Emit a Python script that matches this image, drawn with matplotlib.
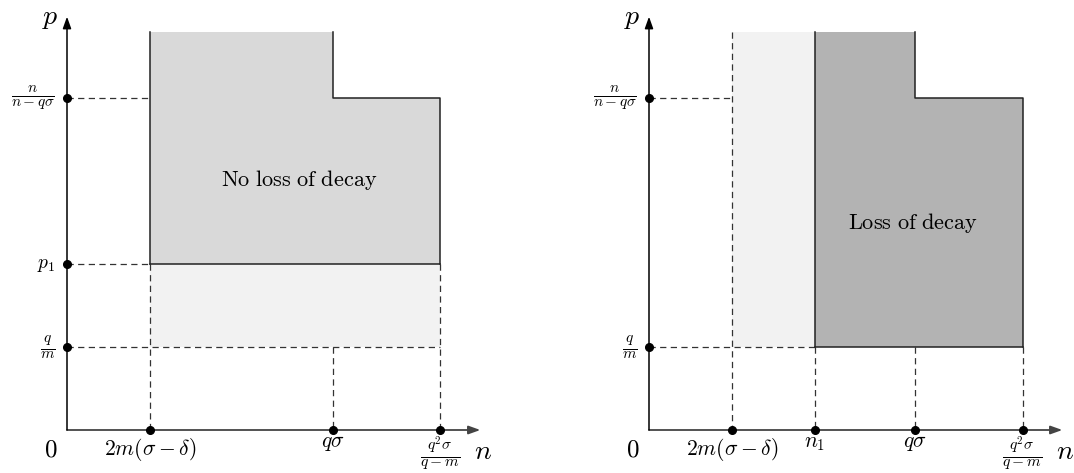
import matplotlib
matplotlib.use("Agg")
import matplotlib.pyplot as plt
from matplotlib.patches import Polygon

plt.rcParams['mathtext.fontset'] = 'cm'

# ---- data (abstract positions) ----
left_xvals = [1.0, 3.2, 4.5]
left_xlabels = [r'$2m(\sigma-\delta)$', r'$q\sigma$', r'$\frac{q^2\sigma}{q-m}$']
left_yvals = [1.0, 2.0, 4.0]
left_ylabels = [r'$\frac{q}{m}$', r'$p_1$', r'$\frac{n}{n-q\sigma}$']

right_xvals = [1.0, 2.0, 3.2, 4.5]
right_xlabels = [r'$2m(\sigma-\delta)$', r'$n_1$', r'$q\sigma$', r'$\frac{q^2\sigma}{q-m}$']
right_yvals = [1.0, 4.0]
right_ylabels = [r'$\frac{q}{m}$', r'$\frac{n}{n-q\sigma}$']

top_val = 4.8
axis_end = 4.98
left_text = r'$\mathrm{No\ loss\ of\ decay}$'
right_text = r'$\mathrm{Loss\ of\ decay}$'

W, H = 1074, 473
U = 83.0  # pixels per unit
fig = plt.figure(figsize=(W/100, H/100), dpi=100)

def make_axes(px0, px1, ox, oy):
    ax = fig.add_axes([px0/W, 0, (px1-px0)/W, 1])
    ax.set_xlim((px0-ox)/U, (px1-ox)/U)
    ax.set_ylim((oy-H)/U, oy/U)
    ax.axis('off')
    return ax

dash = dict(color='#333333', lw=0.9, ls=(0, (5, 3.5)), zorder=2)
solid = dict(color='#222222', lw=1.1, zorder=3)

def axes_arrows(ax):
    ax.annotate('', xy=(axis_end, 0), xytext=(0, 0),
                arrowprops=dict(arrowstyle='-|>,head_length=0.7,head_width=0.25', color='#444444', lw=1.3,
                                shrinkA=0, shrinkB=0), zorder=4)
    ax.annotate('', xy=(0, axis_end), xytext=(0, 0),
                arrowprops=dict(arrowstyle='-|>,head_length=0.7,head_width=0.25', color='black', lw=1.1,
                                shrinkA=0, shrinkB=0), zorder=4)
    ax.text(-0.2, -0.24, r'$0$', fontsize=18, ha='center', va='center')
    ax.text(axis_end + 0.03, -0.25, r'$n$', fontsize=20, ha='center', va='center')
    ax.text(-0.2, 4.97, r'$p$', fontsize=20, ha='center', va='center')

def labels(ax, xvals, xlabels, xoffs, yvals, ylabels):
    ax.plot(xvals, [0]*len(xvals), 'o', color='black', ms=5.5, zorder=5, clip_on=False)
    ax.plot([0]*len(yvals), yvals, 'o', color='black', ms=5.5, zorder=5, clip_on=False)
    for xv, lab, o in zip(xvals, xlabels, xoffs):
        ax.text(xv, o, lab, fontsize=16 if 'frac' in lab else 15.5, ha='center', va='center')
    for yv, lab in zip(yvals, ylabels):
        ax.text(-0.145, yv, lab, fontsize=15.7 if 'frac' in lab else 14, ha='right', va='center')

# ---------------- left panel ----------------
ax = make_axes(0, 537, 67, 430)
x1, x2, x3 = left_xvals
yq, yp1, yn = left_yvals
ax.add_patch(Polygon([(x1, top_val), (x2, top_val), (x2, yn), (x3, yn), (x3, yp1), (x1, yp1)],
                     closed=True, facecolor='#d9d9d9', edgecolor='none', zorder=1))
ax.add_patch(Polygon([(x1, yp1), (x3, yp1), (x3, yq), (x1, yq)],
                     closed=True, facecolor='#f2f2f2', edgecolor='none', zorder=1))
ax.plot([x1, x1], [top_val, yp1], **solid)
ax.plot([x2, x2, x3, x3], [top_val, yn, yn, yp1], **solid)
ax.plot([x1, x3], [yp1, yp1], **solid)
ax.plot([0, x1], [yn, yn], **dash)
ax.plot([0, x1], [yp1, yp1], **dash)
ax.plot([0, x3], [yq, yq], **dash)
ax.plot([x1, x1], [yp1, 0], **dash)
ax.plot([x2, x2], [yq, 0], **dash)
ax.plot([x3, x3], [yp1, 0], **dash)
axes_arrows(ax)
labels(ax, left_xvals, left_xlabels, [-0.24, -0.16, -0.28], left_yvals, left_ylabels)
ax.text(2.795, 3.01, left_text, fontsize=16, ha='center', va='center')

# ---------------- right panel ----------------
ax = make_axes(537, 1074, 649, 430)
r1, r2, r3, r4 = right_xvals
ryq, ryn = right_yvals
ax.add_patch(Polygon([(r1, top_val), (r2, top_val), (r2, ryq), (r1, ryq)],
                     closed=True, facecolor='#f2f2f2', edgecolor='none', zorder=1))
ax.add_patch(Polygon([(r2, top_val), (r3, top_val), (r3, ryn), (r4, ryn), (r4, ryq), (r2, ryq)],
                     closed=True, facecolor='#b3b3b3', edgecolor='none', zorder=1))
ax.plot([r2, r2], [top_val, ryq], **solid)
ax.plot([r3, r3, r4, r4], [top_val, ryn, ryn, ryq], **solid)
ax.plot([r2, r4], [ryq, ryq], **solid)
ax.plot([0, r1], [ryn, ryn], **dash)
ax.plot([0, r2], [ryq, ryq], **dash)
ax.plot([r1, r1], [top_val, 0], **dash)
ax.plot([r2, r2], [ryq, 0], **dash)
ax.plot([r3, r3], [ryq, 0], **dash)
ax.plot([r4, r4], [ryq, 0], **dash)
axes_arrows(ax)
labels(ax, right_xvals, right_xlabels, [-0.24, -0.16, -0.16, -0.28], right_yvals, right_ylabels)
ax.text(3.18, 2.5, right_text, fontsize=16, ha='center', va='center')

fig.savefig('out.png', dpi=100, facecolor='white')
